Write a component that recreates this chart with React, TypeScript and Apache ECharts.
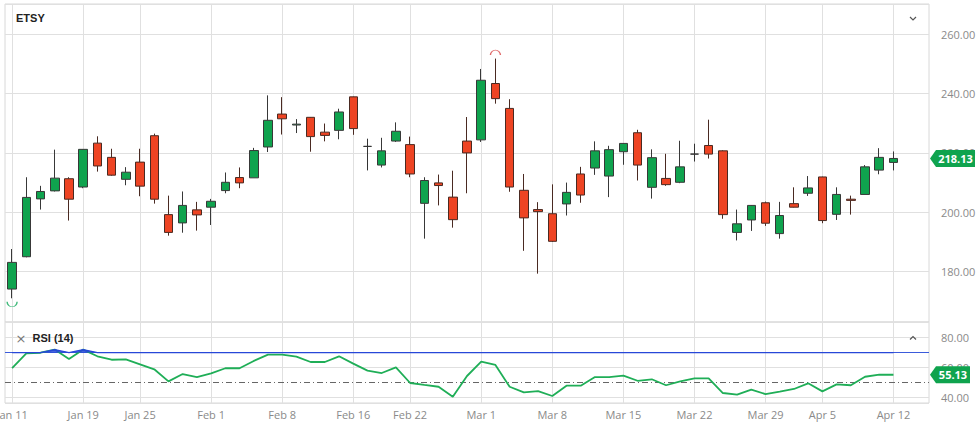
import React, { useEffect, useRef } from 'react';
import * as echarts from 'echarts';

// ---- data ----
const DATES = ['Jan 11','Jan 12','Jan 13','Jan 14','Jan 15','Jan 19','Jan 20','Jan 21','Jan 22','Jan 25','Jan 26','Jan 27','Jan 28','Jan 29',
  'Feb 1','Feb 2','Feb 3','Feb 4','Feb 5','Feb 8','Feb 9','Feb 10','Feb 11','Feb 12','Feb 16','Feb 17','Feb 18','Feb 19','Feb 22','Feb 23','Feb 24','Feb 25','Feb 26',
  'Mar 1','Mar 2','Mar 3','Mar 4','Mar 5','Mar 8','Mar 9','Mar 10','Mar 11','Mar 12','Mar 15','Mar 16','Mar 17','Mar 18','Mar 19','Mar 22','Mar 23','Mar 24','Mar 25','Mar 26','Mar 29','Mar 30','Mar 31',
  'Apr 1','Apr 5','Apr 6','Apr 7','Apr 8','Apr 9','Apr 12'];
const AXIS_PAD = ['Apr 13', 'Apr 14'];
const X_LABELS = ['Jan 11','Jan 19','Jan 25','Feb 1','Feb 8','Feb 16','Feb 22','Mar 1','Mar 8','Mar 15','Mar 22','Mar 29','Apr 5','Apr 12'];

const OPEN = [174.1,185.0,204.5,207.2,211.3,208.5,223.3,218.5,211.1,216.9,225.8,199.2,196.4,200.8,
  201.7,207.3,211.7,211.6,222.0,233.1,229.4,232.0,227.0,227.6,238.9,222.2,215.9,224.0,222.8,203.0,209.9,205.1,224.0,
  224.4,243.4,235.0,207.4,200.9,199.5,202.8,212.9,214.9,212.2,220.4,226.8,208.4,211.4,210.1,219.6,222.5,220.7,193.2,197.4,203.2,192.8,202.9,
  206.4,211.9,199.3,204.4,206.0,214.2,216.8];
const CLOSE = [183.1,205.0,207.0,211.5,204.4,221.2,215.6,212.5,213.5,208.8,204.4,193.2,202.3,199.1,
  203.7,210.1,209.9,220.8,231.0,231.5,229.7,225.5,225.9,233.8,228.2,222.2,220.7,227.3,212.9,210.7,209.0,197.5,220.0,
  244.5,238.3,208.5,198.1,200.2,190.2,206.7,205.8,220.7,221.1,223.2,215.9,218.4,209.3,215.3,219.6,219.6,199.2,196.1,202.3,196.3,198.9,201.7,
  208.2,197.2,206.0,204.0,215.3,218.5,218.13];
const LOW = [171.0,184.8,200.9,207.0,197.2,208.1,213.7,212.3,209.1,205.4,202.9,192.1,193.1,193.8,
  195.7,206.4,208.1,211.6,220.3,226.2,226.7,220.4,223.9,224.6,226.1,214.1,215.1,223.7,211.8,191.1,202.3,194.8,206.4,
  223.7,236.6,206.9,187.0,179.3,190.0,198.9,203.2,212.6,205.1,216.0,210.7,204.6,208.9,209.8,217.1,218.1,197.8,190.5,193.7,195.4,191.1,201.6,
  205.5,196.3,197.4,199.2,206.0,212.8,214.1];
const HIGH = [187.6,211.8,208.9,221.1,211.8,221.3,225.6,221.4,215.2,221.4,226.5,205.6,207.0,203.5,
  204.5,213.4,215.1,221.7,239.4,238.8,231.4,232.1,229.9,234.9,239.0,224.8,225.1,230.3,225.5,211.8,212.7,214.0,232.1,
  248.3,251.8,238.1,212.9,203.4,209.4,210.0,215.3,223.9,222.4,223.3,227.8,221.2,219.7,224.1,223.1,231.2,220.9,200.9,202.4,203.6,203.5,208.4,
  212.2,212.0,208.4,205.6,215.9,221.6,220.5];
const RSI = [59.5,69.5,69.9,72.0,65.7,72.0,67.5,65.2,65.4,62.1,58.8,50.7,55.6,53.6,
  56.1,59.5,59.5,64.4,68.6,68.6,67.3,63.7,63.7,67.5,62.6,57.9,56.3,60.1,49.6,48.3,47.1,40.4,54.3,
  63.9,61.7,47.1,43.3,44.2,40.9,47.8,47.8,53.6,53.6,54.5,51.1,52.1,48.1,50.7,52.7,52.7,42.9,41.8,45.1,42.2,43.8,45.6,
  49.4,44.0,48.7,48.1,53.8,55.2,55.13];
const RSI_OVERBOUGHT = 70;
const RSI_MID = 50;
const TICKER = 'ETSY';
const RSI_TITLE = 'RSI (14)';

// ---- layout / style ----
const GRID_LEFT = 5;
const GRID_W = 924;
const GRID_RIGHT = GRID_LEFT + GRID_W;
const UP = '#0fa34e';
const DOWN = '#ee4423';
const RSI_GREEN = '#1fae57';
const RSI_BLUE = '#2747d8';
const GRID_COLOR = '#e0e0e0';
const LABEL_COLOR = '#8a8a8a';
const FONT = 'Open Sans';

function buildOption() {
  const cats = [...DATES, ...AXIS_PAD];
  const ohlc = DATES.map((_, i) => [OPEN[i], CLOSE[i], LOW[i], HIGH[i]]);
  let hi = 0, lo = 0;
  HIGH.forEach((v, i) => { if (v > HIGH[hi]) hi = i; });
  LOW.forEach((v, i) => { if (v < LOW[lo]) lo = i; });
  const vLines = X_LABELS.map((d) => ({ xAxis: d }));
  const overbought = RSI.map((v) => Math.max(v, RSI_OVERBOUGHT));
  const yAxisCommon = (gi: number) => ({
    gridIndex: gi, type: 'value', position: 'right', scale: true,
    minInterval: 20, maxInterval: 20,
    axisLine: { show: false }, axisTick: { show: false },
    splitLine: { show: true, lineStyle: { color: GRID_COLOR, width: 1 } },
    axisLabel: {
      color: LABEL_COLOR, fontSize: 11, fontFamily: FONT, margin: 12,
      showMinLabel: false, showMaxLabel: false,
      formatter: (v: number) => v.toFixed(2),
    },
  });
  return {
    animation: false,
    backgroundColor: '#ffffff',
    grid: [
      { left: GRID_LEFT, width: GRID_W, top: 4, height: 318, show: true, borderColor: '#d8d8d8', borderWidth: 1, outerBoundsMode: 'none' },
      { left: GRID_LEFT, width: GRID_W, top: 322, height: 81, show: true, borderColor: '#d8d8d8', borderWidth: 1, outerBoundsMode: 'none' },
    ],
    xAxis: [
      { gridIndex: 0, type: 'category', data: cats, show: false, boundaryGap: true },
      {
        gridIndex: 1, type: 'category', data: cats, boundaryGap: true,
        axisLine: { show: false }, axisTick: { show: false }, splitLine: { show: false },
        axisLabel: { interval: (_i: number, v: string) => X_LABELS.includes(v), color: LABEL_COLOR, fontSize: 11, fontFamily: FONT, margin: 6 },
      },
    ],
    yAxis: [
      { ...yAxisCommon(0), min: 163, max: 270.2, splitNumber: 5 },
      { ...yAxisCommon(1), min: 36.2, max: 90.5, splitNumber: 3 },
    ],
    series: [
      {
        type: 'candlestick', xAxisIndex: 0, yAxisIndex: 0, data: ohlc, barWidth: 9, z: 3,
        itemStyle: { color: UP, color0: DOWN, borderColor: '#383838', borderColor0: '#4a2a22', borderWidth: 1, borderColorDoji: '#333333' },
        markLine: {
          silent: true, symbol: ['none', 'none'], z: 0, label: { show: false },
          lineStyle: { color: GRID_COLOR, type: 'solid', width: 1 },
          data: vLines,
        },
        markPoint: {
          silent: true, label: { show: false },
          data: [
            { coord: [DATES[hi], HIGH[hi]], symbol: 'path://M0,10 A10,10 0 0 1 20,10', symbolSize: [10, 5], symbolOffset: [0, -6],
              itemStyle: { color: 'transparent', borderColor: '#e06a6a', borderWidth: 1 } },
            { coord: [DATES[lo], LOW[lo]], symbol: 'path://M0,0 A10,10 0 0 0 20,0', symbolSize: [10, 5], symbolOffset: [0, 6],
              itemStyle: { color: 'transparent', borderColor: '#3fb97a', borderWidth: 1 } },
          ],
        },
      },
      {
        type: 'line', xAxisIndex: 1, yAxisIndex: 1, data: RSI, symbol: 'none', z: 3,
        lineStyle: { width: 1.8, color: RSI_GREEN }, itemStyle: { color: RSI_GREEN },
        markLine: {
          silent: true, symbol: ['none', 'none'], z: 1, label: { show: false },
          lineStyle: { color: GRID_COLOR, type: 'solid', width: 1 },
          data: [
            ...vLines,
            { yAxis: RSI_OVERBOUGHT, lineStyle: { color: '#3b5bdb', type: 'solid', width: 1 } },
            { yAxis: RSI_MID, lineStyle: { color: '#666666', type: [6, 3, 1, 3], width: 1 } },
          ],
        },
      },
      {
        type: 'line', xAxisIndex: 1, yAxisIndex: 1, data: overbought, symbol: 'none', z: 4,
        lineStyle: { width: 1.4, color: RSI_BLUE }, itemStyle: { color: RSI_BLUE },
        areaStyle: { origin: RSI_OVERBOUGHT, color: RSI_BLUE, opacity: 0.85 },
      },
    ],
  };
}

export default function App() {
  const ref = useRef<HTMLDivElement>(null);
  useEffect(() => {
    document.body.style.margin = '0';
    const chart = echarts.init(ref.current!, null, { renderer: 'svg' });
    chart.setOption(buildOption() as any);
    const lastClose = CLOSE[CLOSE.length - 1];
    const lastRsi = RSI[RSI.length - 1];
    const yP = chart.convertToPixel({ yAxisIndex: 0 } as any, lastClose) as number;
    const yR = chart.convertToPixel({ yAxisIndex: 1 } as any, lastRsi) as number;
    const tag = (y: number, txt: string, w: number) => ([
      { type: 'polygon', z: 100, shape: { points: [[GRID_RIGHT + 1, y], [GRID_RIGHT + 7, y - 8.5], [GRID_RIGHT + 7 + w, y - 8.5], [GRID_RIGHT + 7 + w, y + 8.5], [GRID_RIGHT + 7, y + 8.5]] }, style: { fill: UP } },
      { type: 'text', z: 101, x: GRID_RIGHT + 7 + w / 2, y, style: { text: txt, fill: '#ffffff', font: `bold 11px "${FONT}"`, align: 'center', verticalAlign: 'middle' } },
    ]);
    chart.setOption({
      graphic: [
        ...tag(yP, lastClose.toFixed(2), 39),
        ...tag(yR, lastRsi.toFixed(2), 34),
        { type: 'text', z: 100, x: 16, y: 18, style: { text: TICKER, fill: '#222222', font: 'bold 11px "Liberation Sans", Arial', verticalAlign: 'middle' } },
        { type: 'polyline', z: 100, shape: { points: [[910, 17], [913, 20], [916, 17]] }, style: { stroke: '#555555', lineWidth: 1.2, fill: 'none' } },
        { type: 'text', z: 100, x: 21, y: 338, style: { text: '×', fill: '#777777', font: '13px "DejaVu Sans"', align: 'center', verticalAlign: 'middle' } },
        { type: 'text', z: 100, x: 32.5, y: 338, style: { text: RSI_TITLE, fill: '#222222', font: 'bold 11px "Liberation Sans", Arial', verticalAlign: 'middle' } },
        { type: 'polyline', z: 100, shape: { points: [[910, 339.5], [913, 336.5], [916, 339.5]] }, style: { stroke: '#555555', lineWidth: 1.2, fill: 'none' } },
      ],
    } as any);
    return () => chart.dispose();
  }, []);
  return <div ref={ref} style={{ width: 980, height: 429 }} />;
}
